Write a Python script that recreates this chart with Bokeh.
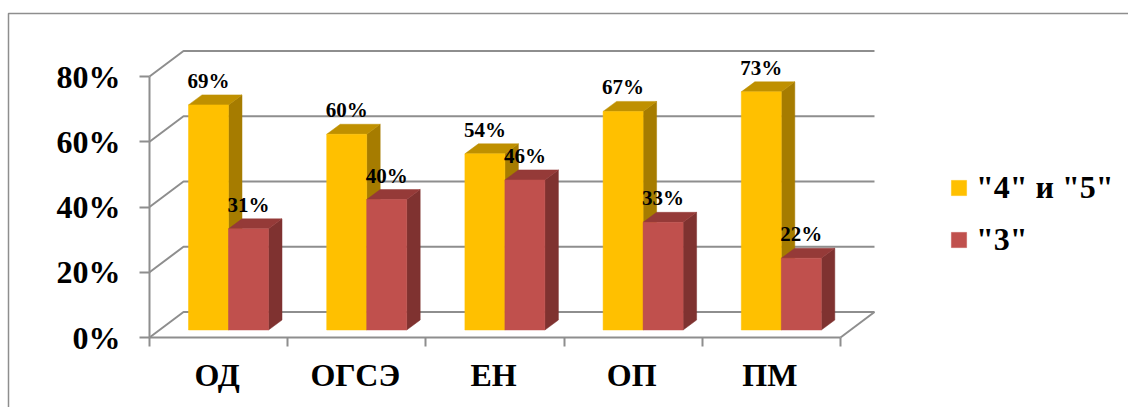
from bokeh.embed import file_html
from bokeh.resources import INLINE
from bokeh.plotting import figure
from bokeh.models import FixedTicker, Legend, LegendItem, BoxAnnotation, ColumnDataSource
from bokeh.core.properties import value

categories = ["ОД", "ОГСЭ", "ЕН", "ОП", "ПМ"]
series_45 = [69, 60, 54, 67, 73]
series_3 = [31, 40, 46, 33, 22]
series_names = ['"4" и "5"', '"3"']
y_ticks = [0, 20, 40, 60, 80]
y_labels = ["0%", "20%", "40%", "60%", "80%"]

FONT = "Liberation Serif"
GRID = "#8e8e8e"
W, H = 1128, 407
# pixel scale of the front plane
PX_X = 5 / 691      # x units per pixel
PX_Y = 80 / 261     # y units per pixel
ORIGIN_X, ORIGIN_Y = 149, 337

p = figure(width=W, height=H, output_backend="svg", toolbar_location=None,
           x_range=(-ORIGIN_X * PX_X, (W - ORIGIN_X) * PX_X),
           y_range=(-(H - ORIGIN_Y) * PX_Y, ORIGIN_Y * PX_Y),
           min_border=0)
p.outline_line_color = None
p.grid.visible = False
p.background_fill_color = "white"

# 3D walls
WALL_DX, WALL_DY = 34 * PX_X, 25.5 * PX_Y
n = len(categories)
xs, ys = [], []
for t in y_ticks:
    xs.append([0, WALL_DX, n + WALL_DX])
    ys.append([t, t + WALL_DY, t + WALL_DY])
xs.append([n, n + WALL_DX])
ys.append([0, WALL_DY])
p.multi_line(xs, ys, line_color=GRID, line_width=2)

# bars
BAR_W = 40 * PX_X
START_DX = 39 * PX_X          # bar offset inside category
BASE_DY = 7.5 * PX_Y
DEPTH_X, DEPTH_Y = 13.5 * PX_X, 10 * PX_Y

def bar_source(vals, shift):
    left = [i + START_DX + shift * BAR_W for i in range(n)]
    right = [l + BAR_W for l in left]
    base = [BASE_DY] * n
    top = [v + BASE_DY for v in vals]
    side_x = [[r, r + DEPTH_X, r + DEPTH_X, r] for r in right]
    side_y = [[b, b + DEPTH_Y, t + DEPTH_Y, t] for b, t in zip(base, top)]
    top_x = [[l, l + DEPTH_X, r + DEPTH_X, r] for l, r in zip(left, right)]
    top_y = [[t, t + DEPTH_Y, t + DEPTH_Y, t] for t in top]
    return dict(left=left, right=right, base=base, top=top, side_x=side_x, side_y=side_y,
                top_x=top_x, top_y=top_y, mid=[(l + r) / 2 for l, r in zip(left, right)],
                label=[f"{v}%" for v in vals])

renderers = []
for vals, shift, front, topc, side in [
    (series_45, 0, "#FFC000", "#BF9000", "#A67C00"),
    (series_3, 1, "#C0504D", "#953A38", "#7F3230"),
]:
    src = ColumnDataSource(bar_source(vals, shift))
    p.patches("side_x", "side_y", source=src, fill_color=side, line_color=side, line_width=0.5)
    p.patches("top_x", "top_y", source=src, fill_color=topc, line_color=topc, line_width=0.5)
    renderers.append(p.quad(left="left", right="right", bottom="base", top="top", source=src,
                            fill_color=front, line_color=front, line_width=0.5))

# data labels above everything
for vals, shift in [(series_45, 0), (series_3, 1)]:
    src = ColumnDataSource(bar_source(vals, shift))
    p.text(x="mid", y="top", text="label", source=src, y_offset=-24,
           text_align="center", text_baseline="middle", text_font=value(FONT),
           text_font_style="bold", text_font_size="21px", text_color="black")

# axes, fixed on the front plane inside the full-canvas frame
ya = p.yaxis[0]
ya.fixed_location = 0
ya.ticker = FixedTicker(ticks=y_ticks)
ya.major_label_overrides = dict(zip(y_ticks, y_labels))
ya.bounds = (0, 80)
ya.major_tick_in = 0
ya.major_tick_out = 10
ya.minor_tick_in = 0
ya.minor_tick_out = 0
ya.major_label_standoff = 19

xa = p.xaxis[0]
xa.fixed_location = 0
centers = [i + 0.5 - 1.5 * PX_X for i in range(n)]
xa.ticker = FixedTicker(ticks=centers, minor_ticks=list(range(n + 1)))
xa.major_label_overrides = dict(zip(centers, categories))
xa.bounds = (0, n)
xa.major_tick_in = 0
xa.major_tick_out = 0
xa.minor_tick_in = 0
xa.minor_tick_out = 9
xa.major_label_standoff = 10

for a in (xa, ya):
    a.axis_line_color = GRID
    a.axis_line_width = 2
    a.major_tick_line_color = GRID
    a.major_tick_line_width = 2
    a.minor_tick_line_color = GRID
    a.minor_tick_line_width = 2
    a.major_label_text_font = FONT
    a.major_label_text_font_style = "bold"
    a.major_label_text_font_size = "32px"
    a.major_label_text_color = "black"

# legend
legend = Legend(items=[LegendItem(label=series_names[0], renderers=[renderers[0]]),
                       LegendItem(label=series_names[1], renderers=[renderers[1]])],
                location=(949, 149), orientation="vertical",
                glyph_width=19, glyph_height=19, label_standoff=8, spacing=15,
                padding=0, margin=0, border_line_color=None, background_fill_alpha=0,
                label_text_font=FONT, label_text_font_style="bold",
                label_text_font_size="32px", label_text_color="black")
p.add_layout(legend, "center")

# outer chart border (cut off at right and bottom in the picture)
p.add_layout(BoxAnnotation(left=8, right=1400, top=13, bottom=600,
                           left_units="canvas", right_units="canvas",
                           top_units="canvas", bottom_units="canvas",
                           fill_alpha=0, line_color="#8e8e8e", line_alpha=1, line_width=1.5,
                           level="underlay"))

open("out.html", "w").write(file_html(p, INLINE))
